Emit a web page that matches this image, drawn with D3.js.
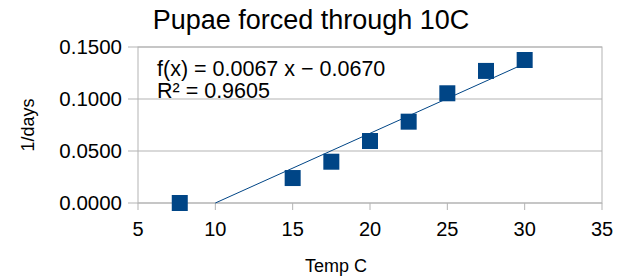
<!DOCTYPE html>
<html>
<meta charset="utf-8">
<style>
  body { margin: 0; background: #fff; }
  text { font-family: "Liberation Sans", Arial, sans-serif; fill: #000; }
</style>
<body>
<svg width="624" height="279"></svg>
<script src="https://d3js.org/d3.v7.min.js"></script>
<script>
  // data
  let temps = [7.7, 15, 17.5, 20, 22.5, 25, 27.5, 30]
  let rates = [0, 0.024, 0.0397, 0.0596, 0.0782, 0.1055, 0.127, 0.1375]
  let trendX = [10, 30]
  let trendSlope = 0.0067
  let trendIntercept = -0.0670
  let xTicks = [5, 10, 15, 20, 25, 30, 35]
  let yTicks = [0, 0.05, 0.1, 0.15]

  let grid = '#b3b3b3'
  let blue = '#004586'

  let svg = d3.select('svg')
  let x = d3.scaleLinear().domain([5, 35]).range([138, 602])
  let y = d3.scaleLinear().domain([0, 0.15]).range([203, 47])

  // horizontal gridlines
  svg.append('g')
    .selectAll('line')
    .data(yTicks).enter()
    .append('line')
    .attr('x1', 128).attr('x2', 602)
    .attr('y1', d => y(d)).attr('y2', d => y(d))
    .attr('stroke', grid)

  // frame
  svg.append('rect')
    .attr('x', 138).attr('y', 47)
    .attr('width', 602 - 138).attr('height', 203 - 47)
    .attr('fill', 'none').attr('stroke', grid)

  // x ticks
  svg.append('g')
    .selectAll('line')
    .data(xTicks).enter()
    .append('line')
    .attr('x1', d => x(d)).attr('x2', d => x(d))
    .attr('y1', 203).attr('y2', 210)
    .attr('stroke', grid)

  svg.append('g')
    .selectAll('text')
    .data(xTicks).enter()
    .append('text')
    .attr('x', d => x(d))
    .attr('y', 236)
    .attr('text-anchor', 'middle')
    .style('font-size', '20px')
    .text(d => d)

  svg.append('g')
    .selectAll('text')
    .data(yTicks).enter()
    .append('text')
    .attr('x', 122)
    .attr('y', d => y(d))
    .attr('dy', '0.35em')
    .attr('text-anchor', 'end')
    .style('font-size', '20.5px')
    .text(d => d3.format('.4f')(d))

  // trend line
  let line = d3.line().x(d => x(d)).y(d => y(trendSlope * d + trendIntercept))
  svg.append('path')
    .attr('d', line(trendX))
    .attr('fill', 'none')
    .attr('stroke', blue)
    .attr('stroke-width', 1)

  // markers
  svg.append('g')
    .selectAll('rect')
    .data(temps.map((t, i) => [t, rates[i]])).enter()
    .append('rect')
    .attr('x', d => x(d[0]) - 8)
    .attr('y', d => y(d[1]) - 8)
    .attr('width', 16).attr('height', 16)
    .attr('fill', blue)

  // texts
  svg.append('text')
    .attr('x', 311).attr('y', 29)
    .attr('text-anchor', 'middle')
    .style('font-size', '27px')
    .text('Pupae forced through 10C')

  svg.append('text')
    .attr('x', 336).attr('y', 272)
    .attr('text-anchor', 'middle')
    .style('font-size', '18px')
    .text('Temp C')

  svg.append('text')
    .attr('transform', 'translate(34,125) rotate(-90)')
    .attr('text-anchor', 'middle')
    .style('font-size', '18px')
    .text('1/days')

  svg.append('text')
    .attr('x', 157).attr('y', 76)
    .style('font-size', '21.5px')
    .text('f(x) = 0.0067 x − 0.0670')

  svg.append('text')
    .attr('x', 157).attr('y', 98)
    .style('font-size', '21.5px')
    .text('R² = 0.9605')
</script>
</body>
</html>
